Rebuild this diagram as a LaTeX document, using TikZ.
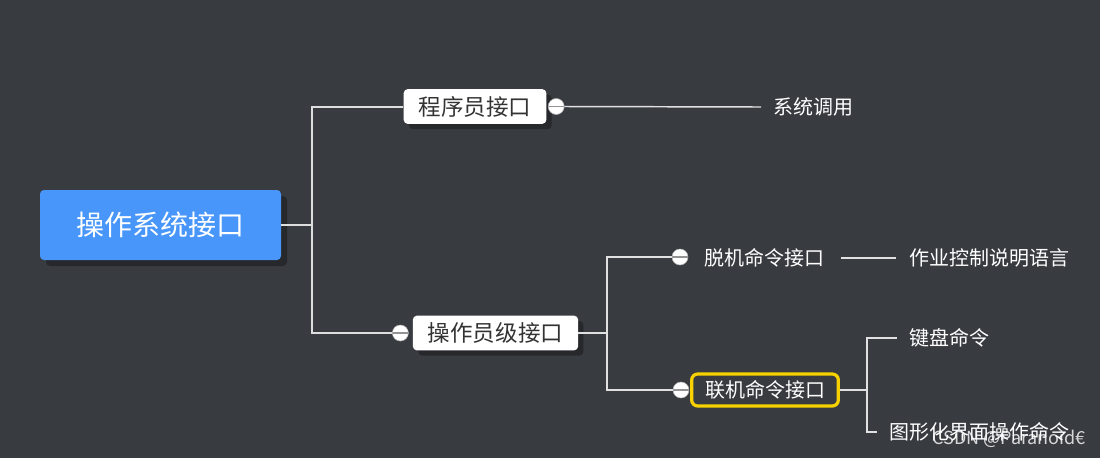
\documentclass[tikz,border=0pt]{standalone}
\usepackage{fontspec}
\setmainfont{Noto Sans CJK SC}
\usetikzlibrary{positioning, shadows}
\definecolor{bgdark}{RGB}{56,59,64}
\definecolor{rootblue}{RGB}{72,150,250}
\definecolor{shade}{RGB}{38,40,44}
\definecolor{linegray}{RGB}{222,222,222}
\definecolor{hilite}{RGB}{248,210,0}
\definecolor{inkdark}{RGB}{51,51,51}

\begin{document}
\begin{tikzpicture}[
  x=0.75pt, y=-0.75pt,
  root/.style={rounded corners=3pt, fill=rootblue, text=white, inner sep=0pt,
    font=\fontsize{21}{21}\selectfont, minimum width=180.75pt, minimum height=52.5pt,
    drop shadow={shadow xshift=4.5pt, shadow yshift=-4.5pt, fill=shade, opacity=1}},
  topic/.style={rounded corners=3pt, fill=white, text=inkdark, inner xsep=11.25pt, inner ysep=0pt,
    font=\fontsize{16.9}{17}\selectfont, minimum height=26pt,
    drop shadow={shadow xshift=4pt, shadow yshift=-4pt, fill=shade, opacity=1}},
  online/.style={rounded corners=4.5pt, draw=hilite, line width=2.4pt, fill=bgdark, text=white,
    inner xsep=10pt, inner ysep=0pt, font=\fontsize{15}{15}\selectfont, minimum height=24pt},
  leaf/.style={text=white, inner xsep=9pt, inner ysep=2pt, font=\fontsize{15}{15}\selectfont},
  fold/.style={circle, draw=gray!60, fill=white, minimum size=12pt, inner sep=0pt,
    path picture={\draw[gray!85, line width=1.3pt]
      ([xshift=-6pt]path picture bounding box.center) -- ([xshift=6pt]path picture bounding box.center);}},
  branch/.style={draw=linegray, line width=1.5pt},
  twig/.style={draw=linegray!90, line width=1.1pt}
]
\fill[bgdark] (0,0) rectangle (1100,458);
\useasboundingbox (0,0) rectangle (1100,458);

% root and first level
\node[root] (os) at (160.5,225) {操作系统接口};
\coordinate (hubA) at (312,225);
\node[topic] (prog) at (475,106.5) {程序员接口};
\node[fold, right=1pt of prog] (progfold) {};
\node[topic] (oper) at (495.5,333) {操作员级接口};
\node[fold, left=3pt of oper] (operfold) {};

\draw[branch] (os.east) -- (hubA);
\draw[branch] (hubA) |- (prog.west);
\draw[branch] (hubA) |- (operfold.west);

% programmer interface
\node[leaf, anchor=west] (syscall) at (761,107) {系统调用};
\draw[twig] (progfold.east) -- (syscall.west);

% operator interface
\coordinate (hubB) at (607,333);
\node[fold] (offfold) at (680,257) {};
\node[leaf, anchor=west] (offline) at (692,258) {脱机命令接口};
\node[fold] (onfold) at (681,390) {};
\node[online] (onl) at (765,390) {联机命令接口};

\draw[twig] (oper.east) -- (hubB);
\draw[twig] (hubB) |- (offfold.west);
\draw[twig] (hubB) |- (onfold.west);

% offline commands
\node[leaf, anchor=west] (jcl) at (897,258) {作业控制说明语言};
\draw[twig] ([xshift=3pt]offline.east) -- ([xshift=-1pt]jcl.west);

% online commands
\coordinate (hubC) at (867,390);
\node[leaf, anchor=west] (keys) at (897,338) {键盘命令};
\node[leaf, anchor=west] (gui) at (877,432) {图形化界面操作命令};
\draw[twig] (onl.east) -- (hubC);
\draw[twig] (hubC) |- (keys.west);
\draw[twig] (hubC) |- (gui.west);

\node[text=white, opacity=0.8, font=\fontsize{13.5}{14}\selectfont, anchor=east, inner sep=0pt] (mark) at (1086,439) {CSDN @Paranoid€};
\end{tikzpicture}
\end{document}
